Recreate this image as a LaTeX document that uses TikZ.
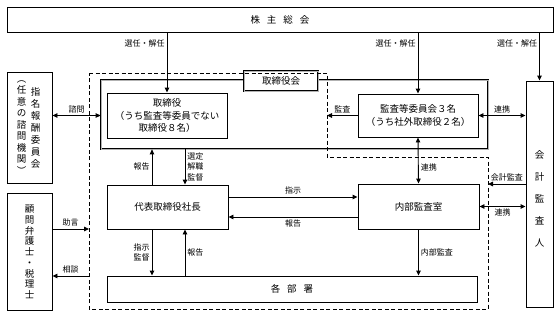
\documentclass[tikz,border=0pt]{standalone}
\usepackage{fontspec}
\setmainfont{Noto Sans CJK JP}
\usetikzlibrary{arrows.meta, calc, positioning}

\begin{document}
\begin{tikzpicture}[x=1pt, y=-1pt,
    box/.style={draw, line width=0.9pt, fill=white, align=center, inner sep=1pt, font=\fontsize{9.5}{12.5}\selectfont},
    vtext/.style={align=center, inner sep=0pt, font=\fontsize{9.5}{12}\selectfont},
    lbl/.style={font=\fontsize{8}{10.5}\selectfont, inner sep=2pt},
    arr/.style={line width=0.9pt, -{Triangle[length=5pt,width=4.5pt]}},
    darr/.style={line width=0.9pt, {Triangle[length=5pt,width=4.5pt]}-{Triangle[length=5pt,width=4.5pt]}},
    frame/.style={draw=black, line width=0.7pt, double=gray!60, double distance=0.9pt}]
    \useasboundingbox (0,0) rectangle (560,317);

    % General meeting of shareholders
    \node[box, minimum width=546pt, minimum height=25pt] (share) at (280,19.5) {株\hspace{7pt}主\hspace{7pt}総\hspace{7pt}会};

    % Board of directors
    \node[frame, minimum width=387pt, minimum height=69pt, inner sep=0pt] (bframe) at (294.5,114.5) {};
    \node[box, frame, minimum width=74pt, minimum height=20pt] (blabel) at (281,81) {取締役会};
    \node[box, minimum width=120pt, minimum height=45pt] (dir) at (167,115.5) {取締役\\（うち監査等委員でない\\取締役８名）};
    \node[box, minimum width=120pt, minimum height=43pt] (acom) at (418,115.5) {監査等委員会３名\\（うち社外取締役２名）};

    % Executives
    \node[box, minimum width=121pt, minimum height=44pt] (ceo) at (167.5,207) {代表取締役社長};
    \node[box, minimum width=121pt, minimum height=45pt] (iaud) at (418.5,206.5) {内部監査室};
    \node[box, minimum width=370pt, minimum height=26pt] (dept) at (292,289) {各\hspace{7pt}部\hspace{7pt}署};

    % Outside bodies
    \node[box, minimum width=27pt, minimum height=226pt] (auditor) at (539.5,194) {};
    \node[vtext, font=\fontsize{9.5}{22}\selectfont] (audtxt) at (539.5,199) {会\\計\\監\\査\\人};
    \node[box, minimum width=45pt, minimum height=111pt] (nom) at (29.5,127.5) {};
    \node[vtext] (nomtxt1) at (35.5,127.5) {指\\名\\報\\酬\\委\\員\\会};
    \node[vtext, font=\fontsize{9.5}{11.5}\selectfont] (nomtxt2) at (21.5,127.5) {︵\\任\\意\\の\\諮\\問\\機\\関\\︶};
    \node[box, minimum width=45pt, minimum height=117pt] (adv) at (29.5,251.5) {};
    \node[vtext, font=\fontsize{9.5}{10.7}\selectfont] (advtxt) at (29.5,252) {顧\\問\\弁\\護\\士\\・\\税\\理\\士};

    % Dashed line round the company
    \coordinate (dtl) at (89,73);
    \coordinate (dtr) at (327,73);
    \coordinate (dmid) at (488,157);
    \coordinate (dbr) at (488,309);
    \coordinate (dbl) at (89,309);
    \draw[line width=0.9pt, dash pattern=on 4pt off 2.5pt] (dtl) -- (dtr) -- (dtr |- dmid) -- (dmid) -- (dbr) -- (dbl) -- cycle;

    % Appointment / dismissal
    \draw[arr] (share.south -| dir.north) -- node[lbl, left, pos=0.18] {選任・解任} (dir.north);
    \draw[arr] (share.south -| acom.north) -- node[lbl, left, pos=0.18] {選任・解任} (acom.north);
    \draw[arr] (share.south -| auditor.north) -- node[lbl, left, pos=0.22] {選任・解任} (auditor.north);

    % Board level
    \draw[darr] (nom.east |- dir.west) -- node[lbl, above] {諮問} (bframe.west |- dir.west);
    \draw[arr] (acom.west) -- node[lbl, above] {監査} (acom.west -| dtr);
    \draw[darr] (acom.east) -- node[lbl, above] {連携} (acom.east -| auditor.west);

    % Board and president
    \draw[arr] ([xshift=-15.5pt]ceo.north) -- node[lbl, left] {報告} ([xshift=-15.5pt]ceo.north |- bframe.south);
    \draw[arr] ([xshift=17.5pt]ceo.north |- bframe.south) -- node[lbl, right, align=left] {選定\\解職\\監督} ([xshift=17.5pt]ceo.north);

    % President and internal audit
    \draw[arr] ([yshift=10pt]ceo.east) -- node[lbl, above] {指示} ([yshift=10pt]ceo.east -| iaud.west);
    \draw[arr] ([yshift=-10pt]ceo.east -| iaud.west) -- node[lbl, below] {報告} ([yshift=-10pt]ceo.east);
    \draw[darr] (acom.south) -- node[lbl, right, pos=0.65] {連携} (iaud.north);
    \draw[darr] (iaud.east) -- node[lbl, below] {連携} (iaud.east -| auditor.west);
    \draw[arr] ([yshift=10pt]auditor.west) -- node[lbl, above] {会計監査} ([yshift=10pt]auditor.west -| dbr);

    % Departments
    \draw[arr] ([xshift=-15.5pt]ceo.south) -- node[lbl, left, align=center] {指示\\監督} ([xshift=-15.5pt]ceo.south |- dept.north);
    \draw[arr] ([xshift=17.5pt]ceo.south |- dept.north) -- node[lbl, right] {報告} ([xshift=17.5pt]ceo.south);
    \draw[arr] (iaud.south) -- node[lbl, right] {内部監査} (iaud.south |- dept.north);

    % Advisers
    \draw[arr] ([yshift=22.5pt]adv.east) -- node[lbl, above] {助言} ([yshift=22.5pt]adv.east -| dbl);
    \draw[arr] ([yshift=-24.5pt]adv.east -| dbl) -- node[lbl, above] {相談} ([yshift=-24.5pt]adv.east);
\end{tikzpicture}
\end{document}
